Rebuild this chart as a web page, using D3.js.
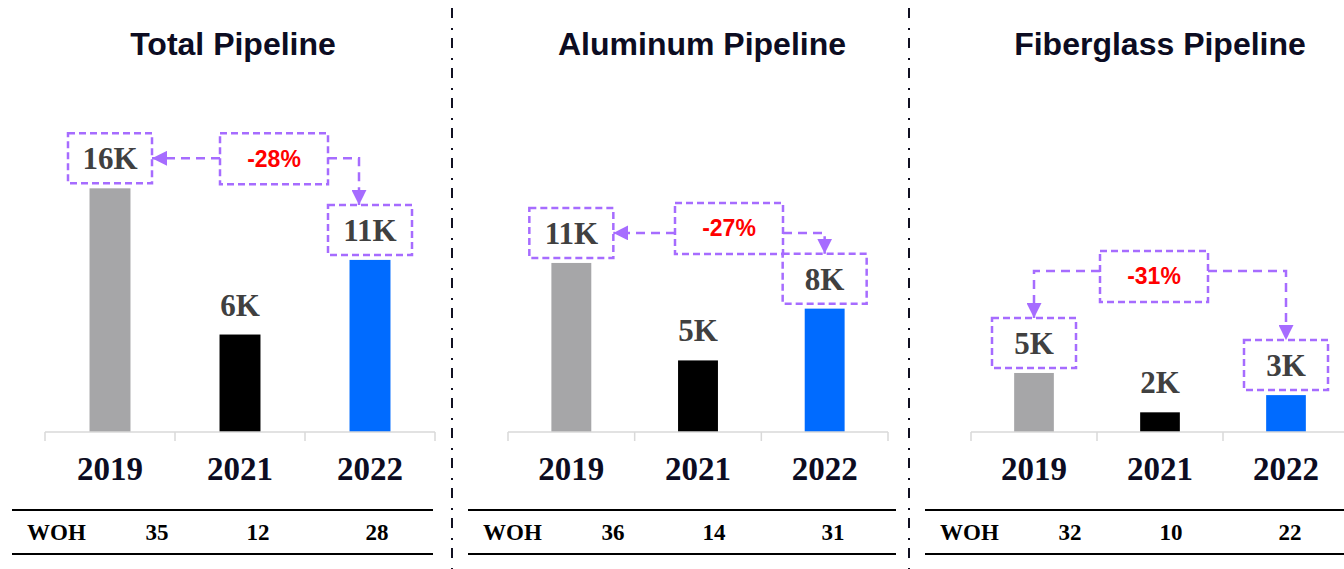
<!DOCTYPE html>
<html>
<head>
<meta charset="utf-8">
<script src="https://cdn.jsdelivr.net/npm/d3@7"></script>
<style>
  body { margin: 0; background: #fff; }
  svg { display: block; }
</style>
</head>
<body>
<div id="chart"></div>
<script>
// data
var years = ["2019", "2021", "2022"];
var titles = ["Total Pipeline", "Aluminum Pipeline", "Fiberglass Pipeline"];
var totalVals = [16.0, 6.4, 11.3];
var aluminumVals = [11.1, 4.7, 8.1];
var fiberglassVals = [4.8, 1.6, 3.0];
var totalLabels = ["16K", "6K", "11K"];
var aluminumLabels = ["11K", "5K", "8K"];
var fiberglassLabels = ["5K", "2K", "3K"];
var changes = ["-28%", "-27%", "-31%"];
var wohTotal = [35, 12, 28];
var wohAluminum = [36, 14, 31];
var wohFiberglass = [32, 10, 22];

var barColors = ["#a6a6a8", "#000000", "#006bff"];
var purple = "#a66cff";
var navy = "#0c0c22";

var W = 1344, H = 569;
var baseY = 432;

// layout for each panel (axis x, width, y max, table x, table width, change box placement)
var panels = [
  {vals: totalVals, labels: totalLabels, woh: wohTotal, x0: 45, w: 390, yMax: 21.8, tx: 12, tw: 421, titleX: 233, pctX: 274, pctDy: 0, downDx: -11, arrow: "side"},
  {vals: aluminumVals, labels: aluminumLabels, woh: wohAluminum, x0: 508, w: 380, yMax: 21.8, tx: 468, tw: 428, titleX: 702, pctX: 729, pctDy: -5, downDx: 0, arrow: "side"},
  {vals: fiberglassVals, labels: fiberglassLabels, woh: wohFiberglass, x0: 971, w: 378, yMax: 27, tx: 925, tw: 430, titleX: 1160, pctX: 1154, pctDy: -67, downDx: 0, arrow: "top"}
];

var svg = d3.select("#chart").append("svg")
    .attr("width", W)
    .attr("height", H);

var defs = svg.append("defs");
defs.append("marker")
    .attr("id", "arrowhead")
    .attr("viewBox", "0 0 10 10")
    .attr("refX", 10).attr("refY", 5)
    .attr("markerWidth", 15).attr("markerHeight", 15)
    .attr("markerUnits", "userSpaceOnUse")
    .attr("orient", "auto")
    .append("path")
    .attr("d", "M0,0 L10,5 L0,10 Z")
    .attr("fill", purple);

// dash-dot dividers
[452, 909].forEach(function(x) {
  svg.append("line")
      .attr("x1", x).attr("x2", x)
      .attr("y1", 8).attr("y2", H)
      .attr("stroke", "#111122")
      .attr("stroke-width", 2)
      .attr("stroke-dasharray", "10,10,2,8");
});

var boxW = 84, boxH = 50, pctW = 108, pctH = 51;
var serif = "Liberation Serif, Times New Roman, serif";
var sans = "Liberation Sans, Arial, sans-serif";

panels.forEach(function(p, i) {
  var g = svg.append("g");

  var x = d3.scaleBand().domain(years).range([p.x0, p.x0 + p.w]);
  var y = d3.scaleLinear().domain([0, p.yMax]).range([baseY, baseY - 332]);
  var barW = x.bandwidth() * 0.315;
  var cx = function(d) { return x(d) + x.bandwidth() / 2; };

  // title
  g.append("text")
      .attr("x", p.titleX).attr("y", 55)
      .attr("text-anchor", "middle")
      .style("font-family", sans)
      .style("font-weight", "bold")
      .style("font-size", "32px")
      .style("fill", navy)
      .text(titles[i]);

  // bars
  g.selectAll("rect.bar")
      .data(years)
      .enter()
      .append("rect")
      .attr("class", "bar")
      .attr("x", function(d) { return cx(d) - barW / 2; })
      .attr("y", function(d, j) { return y(p.vals[j]); })
      .attr("width", barW)
      .attr("height", function(d, j) { return baseY - y(p.vals[j]); })
      .attr("fill", function(d, j) { return barColors[j]; });

  // axis line + boundary ticks
  var axis = g.append("g").attr("transform", "translate(0," + baseY + ")");
  axis.append("line")
      .attr("x1", p.x0).attr("x2", p.x0 + p.w)
      .attr("stroke", "#d9d9d9").attr("stroke-width", 1.5);
  axis.selectAll("line.tick")
      .data(years.concat(["end"]))
      .enter()
      .append("line")
      .attr("class", "tick")
      .attr("x1", function(d) { return d == "end" ? p.x0 + p.w : x(d); })
      .attr("x2", function(d) { return d == "end" ? p.x0 + p.w : x(d); })
      .attr("y1", 0).attr("y2", 9)
      .attr("stroke", "#d9d9d9").attr("stroke-width", 1.5);

  // year labels through d3 axis
  var yearAxis = g.append("g")
      .attr("transform", "translate(0," + baseY + ")")
      .call(d3.axisBottom(x).tickSize(0));
  yearAxis.select(".domain").remove();
  yearAxis.selectAll("text")
      .attr("y", 48).attr("dy", null)
      .style("font-family", serif)
      .style("font-weight", "bold")
      .style("font-size", "33px")
      .style("fill", navy);

  // value labels
  var boxes = [];
  years.forEach(function(d, j) {
    var top = y(p.vals[j]);
    if (j == 1) {
      g.append("text")
          .attr("x", cx(d)).attr("y", top - 19)
          .attr("text-anchor", "middle")
          .style("font-family", serif)
          .style("font-weight", "bold")
          .style("font-size", "31px")
          .style("fill", "#404040")
          .text(p.labels[j]);
      boxes.push(null);
    } else {
      var bb = {x: cx(d) - boxW / 2, y: top - 5 - boxH, w: boxW, h: boxH, cx: cx(d)};
      boxes.push(bb);
      g.append("rect")
          .attr("x", bb.x).attr("y", bb.y)
          .attr("width", bb.w).attr("height", bb.h)
          .attr("fill", "none")
          .attr("stroke", purple).attr("stroke-width", 2.5)
          .attr("stroke-dasharray", "7,4");
      g.append("text")
          .attr("x", bb.cx).attr("y", bb.y + bb.h - 14)
          .attr("text-anchor", "middle")
          .style("font-family", serif)
          .style("font-weight", "bold")
          .style("font-size", "31px")
          .style("fill", "#404040")
          .text(p.labels[j]);
    }
  });

  // change box
  var b0 = boxes[0], b2 = boxes[2];
  var pTop = Math.min(b0.y, b2.y) + p.pctDy;
  var pb = {x: p.pctX - pctW / 2, y: pTop, w: pctW, h: pctH};
  g.append("rect")
      .attr("x", pb.x).attr("y", pb.y)
      .attr("width", pb.w).attr("height", pb.h)
      .attr("fill", "none")
      .attr("stroke", purple).attr("stroke-width", 2.5)
      .attr("stroke-dasharray", "7,4");
  g.append("text")
      .attr("x", p.pctX).attr("y", pb.y + pb.h / 2 + 8)
      .attr("text-anchor", "middle")
      .style("font-family", sans)
      .style("font-weight", "bold")
      .style("font-size", "23px")
      .style("fill", "#ff0000")
      .text(changes[i]);

  // connectors
  var line = d3.line();
  var lines = [];
  var downX = b2.cx + p.downDx;
  if (p.arrow == "side") {
    var ay = b0.y + b0.h / 2;
    lines.push([[pb.x, ay], [b0.x + b0.w, ay]]);
    lines.push([[pb.x + pb.w, ay], [downX, ay], [downX, b2.y]]);
  } else {
    var ay2 = pb.y + 20;
    lines.push([[pb.x, ay2], [b0.cx, ay2], [b0.cx, b0.y]]);
    lines.push([[pb.x + pb.w, ay2], [downX, ay2], [downX, b2.y]]);
  }
  lines.forEach(function(pts) {
    g.append("path")
        .attr("d", line(pts))
        .attr("fill", "none")
        .attr("stroke", purple).attr("stroke-width", 2.5)
        .attr("stroke-dasharray", "9,6")
        .attr("marker-end", "url(#arrowhead)");
  });

  // WOH table
  var t = g.append("g").attr("transform", "translate(" + p.tx + ",0)");
  [510, 554].forEach(function(ly) {
    t.append("line")
        .attr("x1", 0).attr("x2", p.tw)
        .attr("y1", ly).attr("y2", ly)
        .attr("stroke", "#000").attr("stroke-width", 2);
  });
  var colX = [145, 246, 365];
  t.append("text")
      .attr("x", 15).attr("y", 540)
      .style("font-family", serif)
      .style("font-weight", "bold")
      .style("font-size", "23px")
      .style("fill", "#000")
      .text("WOH");
  t.selectAll("text.woh")
      .data(p.woh)
      .enter()
      .append("text")
      .attr("class", "woh")
      .attr("x", function(d, j) { return colX[j]; })
      .attr("y", 540)
      .attr("text-anchor", "middle")
      .style("font-family", serif)
      .style("font-weight", "bold")
      .style("font-size", "23px")
      .style("fill", "#000")
      .text(function(d) { return d; });
});
</script>
</body>
</html>
